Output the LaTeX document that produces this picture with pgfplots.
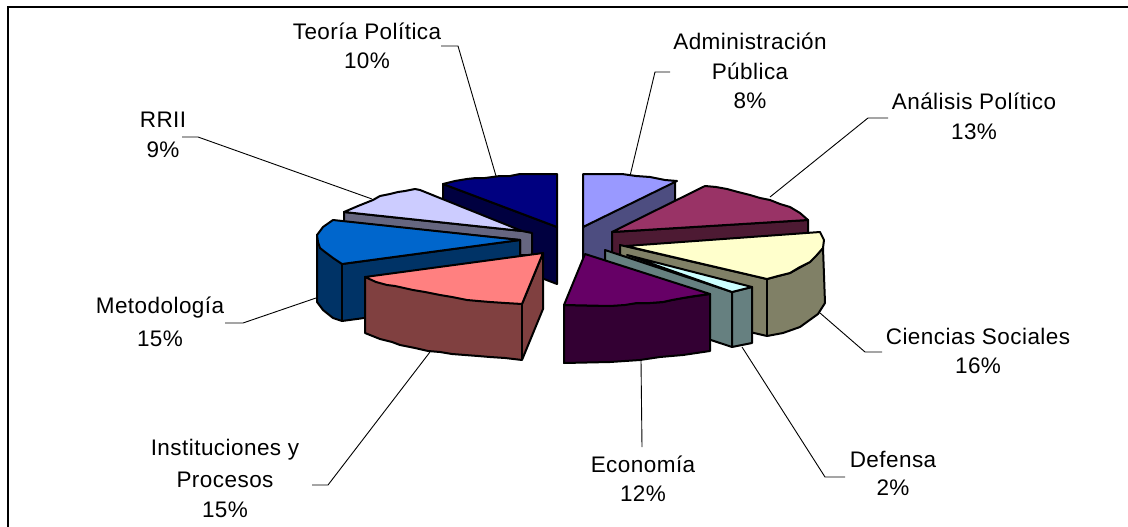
\documentclass[border=0pt]{standalone}
\usepackage{pgfplots}
\pgfplotsset{compat=1.18}
\usepackage{fontspec}
\setmainfont[LetterSpace=2]{Liberation Sans}
\newcommand{\lb}[1]{\fontsize{22.5}{26}\selectfont #1}
\pgfplotsset{
  top/.style={draw=black,line width=2pt,line join=round,fill=#1},
  lead/.style={draw=black,line width=0.9pt,no marks},
}
\definecolor{c1}{HTML}{000080}\definecolor{c1s}{HTML}{000040}
\definecolor{c2}{HTML}{CCCCFF}\definecolor{c2s}{HTML}{666680}
\definecolor{c3}{HTML}{0066CC}\definecolor{c3s}{HTML}{003366}
\definecolor{c4}{HTML}{FF8080}\definecolor{c4s}{HTML}{804040}
\definecolor{c5}{HTML}{9999FF}\definecolor{c5s}{HTML}{4D4D80}
\definecolor{c6}{HTML}{993366}\definecolor{c6s}{HTML}{4D1A33}
\definecolor{c7}{HTML}{FFFFCC}\definecolor{c7s}{HTML}{808066}
\definecolor{c8}{HTML}{CCFFFF}\definecolor{c8s}{HTML}{668080}
\definecolor{c9}{HTML}{660066}\definecolor{c9s}{HTML}{330033}
\begin{document}
\begin{tikzpicture}
\useasboundingbox (0,0) rectangle (1128pt,527pt);
\begin{axis}[at={(0,0)},anchor=south west,scale only axis,width=1128pt,height=527pt,
  xmin=0,xmax=1128,ymin=0,ymax=527,y dir=reverse,hide axis,clip=false]
% leader lines
\addplot[lead] coordinates {(441,46)(458,46)(496,176)};
\addplot[lead] coordinates {(670,72)(655,72)(630,176)};
\addplot[lead] coordinates {(888,118)(868,118)(770,197)};
\addplot[lead] coordinates {(882,352)(865,352)(820,313)};
\addplot[lead] coordinates {(845,477)(825,477)(742,347)};
\addplot[lead] coordinates {(642,447)(641,360)};
\addplot[lead] coordinates {(312,485)(328,485)(430,352)};
\addplot[lead] coordinates {(225,323)(243,323)(316,298)};
\addplot[lead] coordinates {(182,137)(198,137)(372,199)};
% Teoria Politica
\addplot[top=c1s] coordinates {(443,184)(557,227)(557,284)(443,240)} --cycle;
\addplot[top=c1] coordinates {(443,184)(455,181)(467,179)(476,178)(485,178)(500,176)(510,176)(520,174)(557,174)(557,227)} --cycle;
% RRII
\addplot[top=c2s] coordinates {(344,212)(344,222)(520,240)(520,255)(532,255)(532,233)(522,231)} --cycle;
\addplot[top=c2] coordinates {(344,212)(358,206)(373,200)(380,196)(390,194)(398,192)(405,191)(415,189)(420,190)(522,231)} --cycle;
% Metodologia
\addplot[top=c3s] coordinates {(317,235)(317,302)(323,310)(333,318)(342,321)(520,297)(520,240)(342,264)} --cycle;
\addplot[black,line width=2pt,no marks] coordinates {(342,264)(342,321)};
\addplot[top=c3] coordinates {(333,220)(520,240)(342,264)(333,258)(325,252)(320,248)(318,242)(317,235)(323,227)} --cycle;
% Instituciones
\addplot[top=c4s] coordinates {(365,277)(365,333)(380,339)(392,342)(400,345)(415,348)(428,351)(440,352)(452,354)(465,355)(478,356)(490,357)(505,358)(522,360)(543,309)(543,253)(522,304)} --cycle;
\addplot[black,line width=2pt,no marks] coordinates {(522,304)(522,360)};
\addplot[top=c4] coordinates {(365,277)(376,282)(387,285)(395,286)(404,288)(413,290)(425,292)(440,295)(452,297)(467,300)(478,301)(490,302)(505,303)(522,304)(543,253)} --cycle;
% Administracion
\addplot[top=c5s] coordinates {(583,227)(675,181)(675,238)(583,284)} --cycle;
\addplot[top=c5] coordinates {(583,174)(622,174)(636,176)(650,177)(665,180)(677,181)(583,227)} --cycle;
% Analisis
\addplot[top=c6s] coordinates {(612,232)(808,220)(808,240)(612,275)} --cycle;
\addplot[top=c6] coordinates {(612,232)(705,186)(716,187)(727,189)(738,192)(750,195)(760,198)(770,200)(780,204)(790,207)(800,213)(808,220)} --cycle;
% Ciencias
\addplot[top=c7s] coordinates {(620,245)(767,279)(790,273)(810,262)(823,248)(825,303)(818,314)(800,327)(783,333)(767,336)(620,302)} --cycle;
\addplot[black,line width=2pt,no marks] coordinates {(767,279)(767,336)};
\addplot[top=c7] coordinates {(626,246)(820,232)(824,240)(823,248)(816,256)(810,262)(800,267)(790,273)(778,276)(767,279)} --cycle;
% Defensa
\addplot[top=c8s] coordinates {(605,250)(732,292)(732,347)(605,305)} --cycle;
\addplot[top=c8s] coordinates {(732,292)(752,287)(752,343)(732,347)} --cycle;
\addplot[top=c8] coordinates {(627,255)(752,287)(732,292)} --cycle;
% Economia
\addplot[top=c9s] coordinates {(564,305)(610,306)(637,303)(650,303)(663,302)(672,300)(683,298)(710,294)(710,351)(683,355)(660,357)(640,360)(610,362)(564,363)} --cycle;
\addplot[top=c9] coordinates {(585,254)(710,294)(695,296)(683,298)(672,300)(663,302)(650,303)(637,303)(625,305)(610,306)(564,305)} --cycle;
% labels
\node at (axis cs:367,31) {\lb{Teoría Política}};
\node at (axis cs:367,61) {\lb{10\%}};
\node at (axis cs:750,41) {\lb{Administración}};
\node at (axis cs:750,71) {\lb{Pública}};
\node at (axis cs:750,101) {\lb{8\%}};
\node at (axis cs:974,101) {\lb{Análisis Político}};
\node at (axis cs:974,132) {\lb{13\%}};
\node at (axis cs:978,336) {\lb{Ciencias Sociales}};
\node at (axis cs:978,366) {\lb{16\%}};
\node at (axis cs:893,459) {\lb{Defensa}};
\node at (axis cs:893,488) {\lb{2\%}};
\node at (axis cs:643,464) {\lb{Economía}};
\node at (axis cs:643,494) {\lb{12\%}};
\node at (axis cs:225,450) {\lb{Instituciones y}};
\node at (axis cs:225,480) {\lb{Procesos}};
\node at (axis cs:225,510) {\lb{15\%}};
\node at (axis cs:160,308) {\lb{Metodología}};
\node at (axis cs:160,339) {\lb{15\%}};
\node at (axis cs:163,120) {\lb{RRII}};
\node at (axis cs:163,150) {\lb{9\%}};
% frame
\addplot[draw=black,line width=2pt,no marks] coordinates {(7.5,527)(7.5,7.5)(1128,7.5)};
\end{axis}
\end{tikzpicture}
\end{document}
